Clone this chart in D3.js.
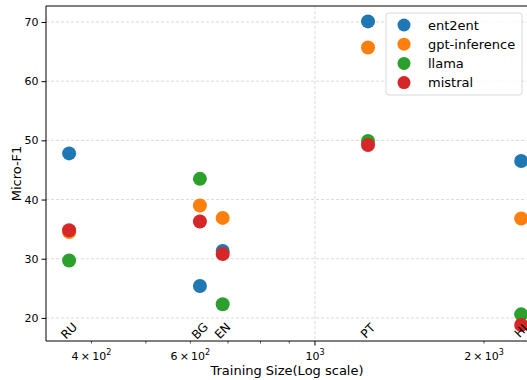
<!DOCTYPE html>
<html>
<head>
<meta charset="utf-8">
<script src="https://cdn.jsdelivr.net/npm/d3@7"></script>
<style>
  body { margin: 0; background: #fff; }
  text { font-family: "DejaVu Sans", sans-serif; fill: #000; }
</style>
</head>
<body>
<div id="chart"></div>
<script>
// languages and their training size (log x axis)
var languages = ["RU", "BG", "EN", "PT", "HI"];
var trainSize = [365, 624, 685, 1243, 2329];

// Micro-F1 per model, same order as languages
var models = ["ent2ent", "gpt-inference", "llama", "mistral"];
var ent2ent = [47.8, 25.4, 31.3, 70.1, 46.5];
var gptInference = [34.5, 39.0, 36.9, 65.7, 36.8];
var llama = [29.7, 43.5, 22.3, 49.9, 20.6];
var mistral = [34.8, 36.3, 30.8, 49.2, 18.8];
var seriesValues = [ent2ent, gptInference, llama, mistral];
var colors = ["#1f77b4", "#ff7f0e", "#2ca02c", "#d62728"];

var yTicks = [20, 30, 40, 50, 60, 70];
var xMajor = [1000];
var xMinor = [400, 500, 600, 700, 800, 900, 2000];
var xLabels = {400: ["4", "2"], 600: ["6", "2"], 1000: ["", "3"], 2000: ["2", "3"]};

var svgWidth = 527, svgHeight = 380;
var margin = {top: 6, right: -1, bottom: 39, left: 46};
var width = svgWidth - margin.left - margin.right;
var height = svgHeight - margin.top - margin.bottom;

var svg = d3.select("#chart").append("svg")
  .attr("width", svgWidth)
  .attr("height", svgHeight);

var g = svg.append("g")
  .attr("transform", `translate(${margin.left}, ${margin.top})`);

var x = d3.scaleLog().domain([332, 2395]).range([0, width]);
var y = d3.scaleLinear().domain([16.1, 72.7]).range([height, 0]);

// grid lines
g.selectAll(".hgrid").data(yTicks).enter().append("line")
  .attr("x1", 0).attr("x2", width)
  .attr("y1", d => y(d)).attr("y2", d => y(d))
  .attr("stroke", "#b0b0b0").attr("stroke-opacity", 0.6)
  .attr("stroke-dasharray", "3,2").attr("stroke-width", 0.8);

g.selectAll(".vgrid").data(xMajor).enter().append("line")
  .attr("x1", d => x(d)).attr("x2", d => x(d))
  .attr("y1", 0).attr("y2", height)
  .attr("stroke", "#b0b0b0").attr("stroke-opacity", 0.6)
  .attr("stroke-dasharray", "3,2").attr("stroke-width", 0.8);

// y axis
var yAxis = g.append("g")
  .call(d3.axisLeft(y).tickValues(yTicks).tickSize(4.5).tickPadding(3));
yAxis.select(".domain").remove();
yAxis.selectAll("text").style("font-size", "11px").style("font-family", "DejaVu Sans");
yAxis.selectAll("line").attr("stroke", "#000");

// x axis: major + minor ticks
g.selectAll(".xmaj").data(xMajor).enter().append("line")
  .attr("x1", d => x(d)).attr("x2", d => x(d))
  .attr("y1", height).attr("y2", height + 4.5).attr("stroke", "#000");
g.selectAll(".xmin").data(xMinor).enter().append("line")
  .attr("x1", d => x(d)).attr("x2", d => x(d))
  .attr("y1", height).attr("y2", height + 2.5).attr("stroke", "#000").attr("stroke-width", 0.7);

var tickText = g.selectAll(".xlab").data(Object.keys(xLabels).map(Number)).enter().append("text")
  .attr("x", d => x(d))
  .attr("y", height + 19)
  .attr("text-anchor", "middle")
  .style("font-size", "11px");
tickText.each(function(d) {
  var t = d3.select(this);
  var parts = xLabels[d];
  if (parts[0] !== "") t.append("tspan").text(parts[0] + "\u2009\u00d7\u2009");
  t.append("tspan").text("10");
  t.append("tspan").attr("dy", -5).style("font-size", "8px").text(parts[1]);
});

// spines (left, bottom, top)
g.append("line").attr("x1", 0).attr("x2", 0).attr("y1", 0).attr("y2", height)
  .attr("stroke", "#000").attr("stroke-width", 1);
g.append("line").attr("x1", 0).attr("x2", width).attr("y1", height).attr("y2", height)
  .attr("stroke", "#000").attr("stroke-width", 1);
g.append("line").attr("x1", 0).attr("x2", width).attr("y1", 0).attr("y2", 0)
  .attr("stroke", "#000").attr("stroke-width", 1);

// points
seriesValues.forEach(function(vals, i) {
  g.selectAll(".pt" + i).data(vals).enter().append("circle")
    .attr("cx", (d, j) => x(trainSize[j]))
    .attr("cy", d => y(d))
    .attr("r", 7)
    .attr("fill", colors[i]);
});

// language labels, rotated
g.selectAll(".lang").data(languages).enter().append("text")
  .attr("transform", (d, j) => `translate(${x(trainSize[j])}, ${y(17.8)}) rotate(-45)`)
  .attr("text-anchor", "middle")
  .attr("dominant-baseline", "central")
  .style("font-size", "12px")
  .text(d => d);

// axis titles
svg.append("text")
  .attr("x", margin.left + (528 - margin.left) / 2)
  .attr("y", 375)
  .attr("text-anchor", "middle")
  .style("font-size", "13px")
  .text("Training Size(Log scale)");

svg.append("text")
  .attr("transform", `translate(21, ${margin.top + height / 2}) rotate(-90)`)
  .attr("text-anchor", "middle")
  .style("font-size", "13px")
  .text("Micro-F1");

// legend
var legend = svg.append("g").attr("transform", "translate(386, 13)");
legend.append("rect")
  .attr("width", 136).attr("height", 82).attr("rx", 3)
  .attr("fill", "#fff").attr("fill-opacity", 0.8)
  .attr("stroke", "#d9d9d9").attr("stroke-width", 1);
models.forEach(function(m, i) {
  legend.append("circle")
    .attr("cx", 18).attr("cy", 12 + i * 19.2)
    .attr("r", 6.5).attr("fill", colors[i]);
  legend.append("text")
    .attr("x", 42).attr("y", 12 + i * 19.2)
    .attr("dominant-baseline", "central")
    .style("font-size", "13px")
    .text(m);
});
</script>
</body>
</html>
